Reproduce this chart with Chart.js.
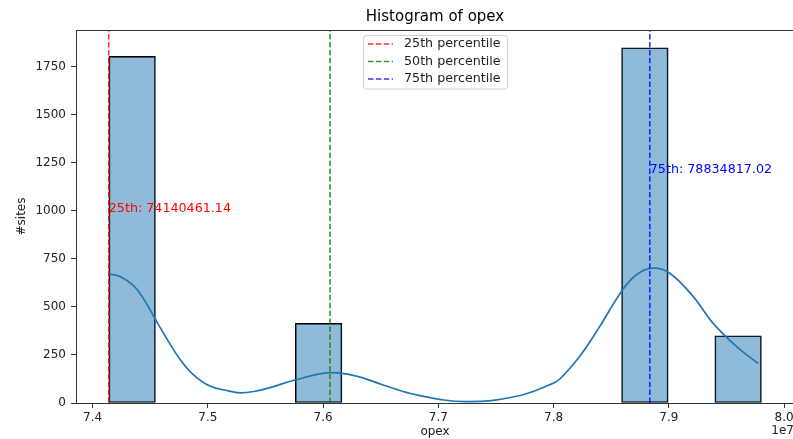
<!DOCTYPE html>
<html>
<head>
<meta charset="utf-8">
<script src="https://cdn.jsdelivr.net/npm/chart.js@4.4.1/dist/chart.umd.min.js"></script>
<style>
  html, body { margin: 0; padding: 0; background: #fff; overflow: hidden; }
  #wrap { width: 793px; height: 439px; overflow: hidden; }
</style>
</head>
<body>
<div id="wrap"><canvas id="histChart" width="800" height="439"></canvas></div>
<script>
// opex values are in units of 1e7 (the axis offset shown bottom right)
var binCenters = [7.4343, 7.4747, 7.5152, 7.5556, 7.5961, 7.6365, 7.6770,
                  7.7174, 7.7579, 7.7983, 7.8388, 7.8792, 7.9197, 7.9601];
var binCounts = [1805, null, null, null, 415, null, null,
                 null, null, null, null, 1850, null, 350];

// kde curve
var kdeX = [7.4140, 7.4238, 7.4353, 7.4440, 7.4541, 7.4643, 7.4758, 7.4873,
            7.5018, 7.5177, 7.5279, 7.5400, 7.5539, 7.5755, 7.6059, 7.6290,
            7.6521, 7.6811, 7.7245, 7.7678, 7.7967, 7.8054, 7.8227, 7.8401,
            7.8589, 7.8719, 7.8863, 7.9008, 7.9210, 7.9383, 7.9586, 7.9776];
var kdeY = [673, 659, 612, 545, 440, 335, 228, 148,
            88, 63, 53, 60, 80, 120, 158, 140,
            94, 42, 7, 35, 95, 125, 243, 399,
            581, 668, 702, 676, 555, 416, 295, 205];

// percentiles (raw opex)
var pctNames = ['25th percentile', '50th percentile', '75th percentile'];
var pctValues = [74140461.14, 76060000, 78834817.02];
var pctColors = ['rgba(255,0,0,0.8)', 'rgba(0,128,0,0.8)', 'rgba(0,0,255,0.8)'];

// text notes placed at these counts
var noteNames = ['25th', '75th'];
var noteValues = [74140461.14, 78834817.02];
var noteHeights = [995, 1198];
var noteColors = ['red', 'blue'];

var xTicks = [7.4, 7.5, 7.6, 7.7, 7.8, 7.9, 8.0];
var yTicks = [0, 250, 500, 750, 1000, 1250, 1500, 1750];
var yMax = 1942.5;
var fontName = 'DejaVu Sans';

var barData = [];
for (var i = 0; i < binCenters.length; i++) {
  barData.push({ x: binCenters[i], y: binCounts[i] });
}
var kdeData = [];
for (var i = 0; i < kdeX.length; i++) {
  kdeData.push({ x: kdeX[i], y: kdeY[i] });
}

var datasets = [];
for (var i = 0; i < pctValues.length; i++) {
  datasets.push({
    type: 'line',
    label: pctNames[i],
    data: [{ x: pctValues[i] / 1e7, y: 0 }, { x: pctValues[i] / 1e7, y: yMax }],
    borderColor: pctColors[i],
    borderWidth: 1.6,
    borderDash: [5.5, 2.4],
    pointRadius: 0,
    order: 0,
    inLegend: true
  });
}
datasets.push({
  type: 'line',
  label: 'kde',
  data: kdeData,
  borderColor: '#1f77b4',
  borderWidth: 1.7,
  pointRadius: 0,
  tension: 0.4,
  order: 1
});
datasets.push({
  type: 'bar',
  label: 'count',
  data: barData,
  backgroundColor: 'rgba(31,119,180,0.5)',
  borderColor: '#000',
  borderWidth: 1,
  borderSkipped: false,
  barPercentage: 1,
  categoryPercentage: 1,
  order: 2
});

// spines, title, notes, offset text and legend
var extrasPlugin = {
  id: 'extras',
  afterDraw: function(chart) {
    var ctx = chart.ctx;
    var a = chart.chartArea;
    var xs = chart.scales.x, ys = chart.scales.y;
    ctx.save();
    ctx.strokeStyle = '#333';
    ctx.lineWidth = 1;
    ctx.strokeRect(a.left + 0.5, a.top + 0.5, a.right - a.left, a.bottom - a.top);

    ctx.fillStyle = '#000';
    ctx.font = '15px "' + fontName + '"';
    ctx.textAlign = 'center';
    ctx.textBaseline = 'middle';
    ctx.fillText('Histogram of opex', (a.left + a.right) / 2, 17);

    ctx.font = '12.7px "' + fontName + '"';
    ctx.textAlign = 'left';
    ctx.textBaseline = 'alphabetic';
    for (var i = 0; i < noteNames.length; i++) {
      ctx.fillStyle = noteColors[i];
      ctx.fillText(noteNames[i] + ': ' + noteValues[i].toFixed(2),
        xs.getPixelForValue(noteValues[i] / 1e7), ys.getPixelForValue(noteHeights[i]));
    }

    ctx.fillStyle = '#222';
    ctx.font = '12px "' + fontName + '"';
    ctx.textAlign = 'right';
    ctx.textBaseline = 'middle';
    ctx.fillText('1e7', a.right, 431);

    // legend box
    var items = chart.data.datasets.filter(function(d) { return d.inLegend; });
    var bw = 144, rowH = 17.5;
    var bh = items.length * rowH + 1;
    var bx = (a.left + a.right) / 2 - bw / 2;
    var by = a.top + 5;
    ctx.beginPath();
    ctx.roundRect(bx + 0.5, by + 0.5, bw, bh, 3);
    ctx.fillStyle = 'rgba(255,255,255,0.8)';
    ctx.fill();
    ctx.strokeStyle = '#d0d0d0';
    ctx.stroke();
    ctx.font = '12.7px "' + fontName + '"';
    ctx.textAlign = 'left';
    for (var i = 0; i < items.length; i++) {
      var cy = by + 9 + i * rowH;
      ctx.beginPath();
      ctx.setLineDash([5.5, 2.4]);
      ctx.strokeStyle = items[i].borderColor;
      ctx.lineWidth = 1.6;
      ctx.moveTo(bx + 5, cy);
      ctx.lineTo(bx + 30, cy);
      ctx.stroke();
      ctx.setLineDash([]);
      ctx.fillStyle = '#222';
      ctx.fillText(items[i].label, bx + 41, cy);
    }
    ctx.restore();
  }
};

var chart = new Chart(document.getElementById('histChart').getContext('2d'), {
  data: { datasets: datasets },
  plugins: [extrasPlugin],
  options: {
    responsive: false,
    animation: false,
    layout: { padding: { top: 30, right: 6, left: 0, bottom: 0 } },
    plugins: {
      legend: { display: false },
      tooltip: { enabled: false }
    },
    scales: {
      x: {
        type: 'linear',
        min: 7.3856,
        max: 8.0086,
        offset: false,
        border: { display: false },
        grid: { offset: false, drawOnChartArea: false, drawTicks: true, tickLength: 5, tickColor: '#333' },
        ticks: {
          padding: 3,
          maxRotation: 0,
          autoSkip: false,
          color: '#222',
          font: { family: fontName, size: 12 },
          callback: function(v) { return v.toFixed(1); }
        },
        afterBuildTicks: function(s) {
          s.ticks = xTicks.map(function(v) { return { value: v }; });
        },
        title: {
          display: true,
          text: 'opex',
          color: '#222',
          padding: { top: 0, bottom: 0 },
          font: { family: fontName, size: 12 }
        },
        afterFit: function(s) {
          s.height = 36;
          s.paddingLeft = 0;
          s.paddingRight = 0;
        }
      },
      y: {
        type: 'linear',
        min: 0,
        max: yMax,
        border: { display: false },
        grid: { drawOnChartArea: false, drawTicks: true, tickLength: 5, tickColor: '#333' },
        ticks: {
          padding: 5,
          autoSkip: false,
          color: '#222',
          font: { family: fontName, size: 12 },
          callback: function(v) { return String(v); }
        },
        afterBuildTicks: function(s) {
          s.ticks = yTicks.map(function(v) { return { value: v }; });
        },
        title: {
          display: true,
          text: '#sites',
          color: '#222',
          padding: { top: 15, bottom: 0 },
          font: { family: fontName, size: 12 }
        },
        afterFit: function(s) {
          s.width = 76;
          s.paddingTop = 0;
          s.paddingBottom = 0;
        }
      }
    }
  }
});
</script>
</body>
</html>
